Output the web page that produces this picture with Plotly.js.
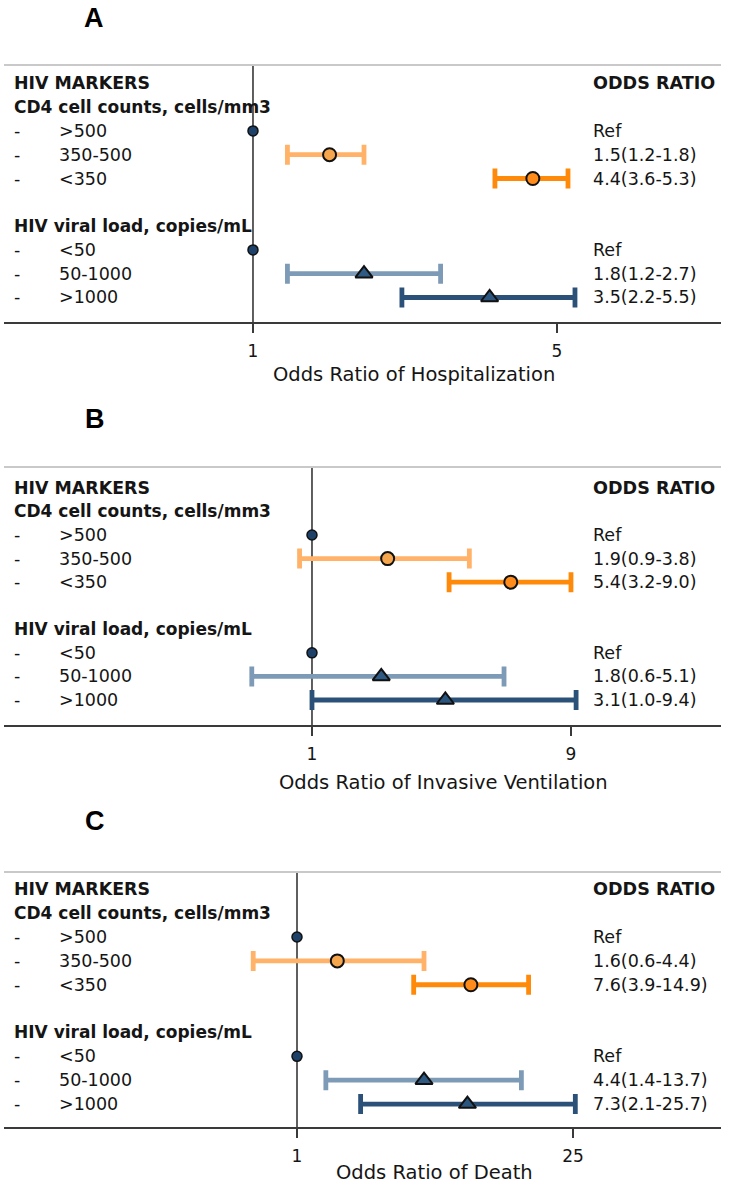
<!DOCTYPE html>
<html>
<head>
<meta charset="utf-8">
<script src="https://cdn.plot.ly/plotly-3.0.1.min.js"></script>
<style>html,body{margin:0;padding:0;background:#fff;}#chart{width:729px;height:1199px;}</style>
</head>
<body>
<div id="chart"></div>
<script>
// ---- Data ----
const panelLetters = ["A", "B", "C"];
const outcomeTitles = ["Odds Ratio of Hospitalization", "Odds Ratio of Invasive Ventilation", "Odds Ratio of Death"];
const subgroups = [">500", "350-500", "<350", "<50", "50-1000", ">1000"];
const groupHeaders = ["CD4 cell counts, cells/mm3", "HIV viral load, copies/mL"];
const isRef = [true, false, false, true, false, false];

const hospOR = [1, 1.5, 4.4, 1, 1.8, 3.5];
const hospLo = [null, 1.2, 3.6, null, 1.2, 2.2];
const hospHi = [null, 1.8, 5.3, null, 2.7, 5.5];

const ventOR = [1, 1.9, 5.4, 1, 1.8, 3.1];
const ventLo = [null, 0.9, 3.2, null, 0.6, 1.0];
const ventHi = [null, 3.8, 9.0, null, 5.1, 9.4];

const deathOR = [1, 1.6, 7.6, 1, 4.4, 7.3];
const deathLo = [null, 0.6, 3.9, null, 1.4, 2.1];
const deathHi = [null, 4.4, 14.9, null, 13.7, 25.7];

const tickVals = [[1, 5], [1, 9], [1, 25]];

// ---- Styling ----
const W = 729, H = 1199;
const FONT = "DejaVu Sans, Liberation Sans, Arial, sans-serif";
const TXT = "#151515";
const barColors = [null, "#ffb268", "#ff8a0a", null, "#7d9ab6", "#2c5179"];
const markerFill = [null, "#f6a64c", "#ff8c1a", null, "#2f5a84", "#2b5680"];
const markerSym = [null, "circle", "circle", null, "triangle-up", "triangle-up"];
const markerSize = [null, 13, 13, null, 15, 15];

// row index of each subgroup in the text table (0 = HIV MARKERS header)
const rowOfSub = [2, 3, 4, 7, 8, 9];
const rowOfHeader = [1, 6];

// pixel geometry of each panel: top line, bottom axis, x-range(log10)
const panels = [
  {top: 65, bottom: 322, yr: [10.03, -0.77], xr: [-0.5725, 1.0761], or: hospOR, lo: hospLo, hi: hospHi,
   letter: [94, 18], title: [414, 374]},
  {top: 467, bottom: 725, yr: [10.06, -0.885], xr: [-1.1348, 1.507], or: ventOR, lo: ventLo, hi: ventHi,
   letter: [95, 419], title: [443, 782]},
  {top: 872, bottom: 1127, yr: [9.96, -0.724], xr: [-1.4843, 2.1479], or: deathOR, lo: deathLo, hi: deathHi,
   letter: [95, 821], title: [435, 1172]}
];

const px = v => v / W;
const py = v => 1 - v / H;

const data = [];
const layout = {
  width: W, height: H,
  margin: {l: 0, r: 0, t: 0, b: 0},
  paper_bgcolor: "#fff", plot_bgcolor: "rgba(0,0,0,0)",
  showlegend: false,
  font: {family: FONT, color: TXT, size: 17},
  annotations: [], shapes: []
};

function fmt(v) { return v.toFixed(1); }

panels.forEach((p, i) => {
  const sfx = i === 0 ? "" : String(i + 1);
  const xa = "x" + sfx, ya = "y" + sfx;
  layout["xaxis" + sfx] = {
    type: "log", range: p.xr, domain: [px(4), px(721)], anchor: ya,
    showgrid: false, zeroline: false, showline: true, linecolor: "#3a3a3a", linewidth: 2,
    ticks: "outside", ticklen: 9, tickwidth: 1.5, tickcolor: "#3a3a3a",
    tickmode: "array", tickvals: tickVals[i], ticktext: tickVals[i].map(String),
    tickfont: {family: FONT, size: 17, color: TXT}, ticklabelstandoff: 4,
    fixedrange: true
  };
  layout["yaxis" + sfx] = {
    range: p.yr, domain: [py(p.bottom), py(p.top)], anchor: xa,
    visible: false, showgrid: false, zeroline: false, fixedrange: true
  };

  // top gray line
  layout.shapes.push({type: "line", xref: xa + " domain", yref: ya + " domain", x0: 0, x1: 1, y0: 1, y1: 1,
    line: {color: "#c9c9c9", width: 2}});
  // vertical reference line at OR = 1
  layout.shapes.push({type: "line", xref: xa, yref: ya + " domain", x0: 1, x1: 1, y0: 0, y1: 1,
    line: {color: "#2a2a2a", width: 1.5}, layer: "below"});

  // Reference points
  const refX = [], refY = [];
  subgroups.forEach((s, k) => { if (isRef[k]) { refX.push(p.or[k]); refY.push(rowOfSub[k]); } });
  // estimates with CIs
  subgroups.forEach((s, k) => {
    if (isRef[k]) return;
    data.push({
      type: "scatter", mode: "markers", xaxis: xa, yaxis: ya,
      x: [p.or[k]], y: [rowOfSub[k]],
      error_x: {type: "data", symmetric: false, array: [p.hi[k] - p.or[k]], arrayminus: [p.or[k] - p.lo[k]],
        color: barColors[k], thickness: 4.8, width: 10},
      marker: {symbol: markerSym[k], size: markerSize[k], color: markerFill[k], line: {color: "#111", width: 2}},
      hoverinfo: "skip"
    });
  });
  data.push({
    type: "scatter", mode: "markers", xaxis: xa, yaxis: ya, x: refX, y: refY,
    marker: {symbol: "circle", size: 10, color: "#1d4169", line: {color: "#111", width: 1.5}},
    hoverinfo: "skip"
  });

  // Left text table
  const ann = layout.annotations;
  ann.push({xref: "paper", yref: ya, x: px(12), y: 0, text: "<b>HIV MARKERS</b>", showarrow: false,
    xanchor: "left", yanchor: "middle", font: {size: 17.4, color: TXT}});
  groupHeaders.forEach((g, j) => {
    ann.push({xref: "paper", yref: ya, x: px(12), y: rowOfHeader[j], text: "<b>" + g + "</b>", showarrow: false,
      xanchor: "left", yanchor: "middle", font: {size: 17, color: TXT}});
  });
  subgroups.forEach((s, k) => {
    ann.push({xref: "paper", yref: ya, x: px(12), y: rowOfSub[k], text: "-", showarrow: false,
      xanchor: "left", yanchor: "middle", font: {size: 17.5, color: TXT}});
    ann.push({xref: "paper", yref: ya, x: px(57), y: rowOfSub[k], text: s.replace(/</g, "&lt;").replace(/>/g, "&gt;"),
      showarrow: false, xanchor: "left", yanchor: "middle", font: {size: 17.5, color: TXT}});
    const t = isRef[k] ? "Ref" : fmt(p.or[k]) + "(" + fmt(p.lo[k]) + "-" + fmt(p.hi[k]) + ")";
    ann.push({xref: "paper", yref: ya, x: px(591), y: rowOfSub[k], text: t, showarrow: false,
      xanchor: "left", yanchor: "middle", font: {size: 17.5, color: TXT}});
  });
  ann.push({xref: "paper", yref: ya, x: px(591), y: 0, text: "<b>ODDS RATIO</b>", showarrow: false,
    xanchor: "left", yanchor: "middle", font: {size: 17.6, color: TXT}});

  // Axis title
  ann.push({xref: "paper", yref: "paper", x: px(p.title[0]), y: py(p.title[1]), text: outcomeTitles[i],
    showarrow: false, xanchor: "center", yanchor: "middle", font: {size: 19.5, color: TXT}});
  // Panel letter
  ann.push({xref: "paper", yref: "paper", x: px(p.letter[0]), y: py(p.letter[1]), text: "<b>" + panelLetters[i] + "</b>",
    showarrow: false, xanchor: "center", yanchor: "middle",
    font: {family: "Liberation Sans, Arial, sans-serif", size: 27, color: "#000"}});
});

Plotly.newPlot("chart", data, layout, {displayModeBar: false, staticPlot: true});
</script>
</body>
</html>
